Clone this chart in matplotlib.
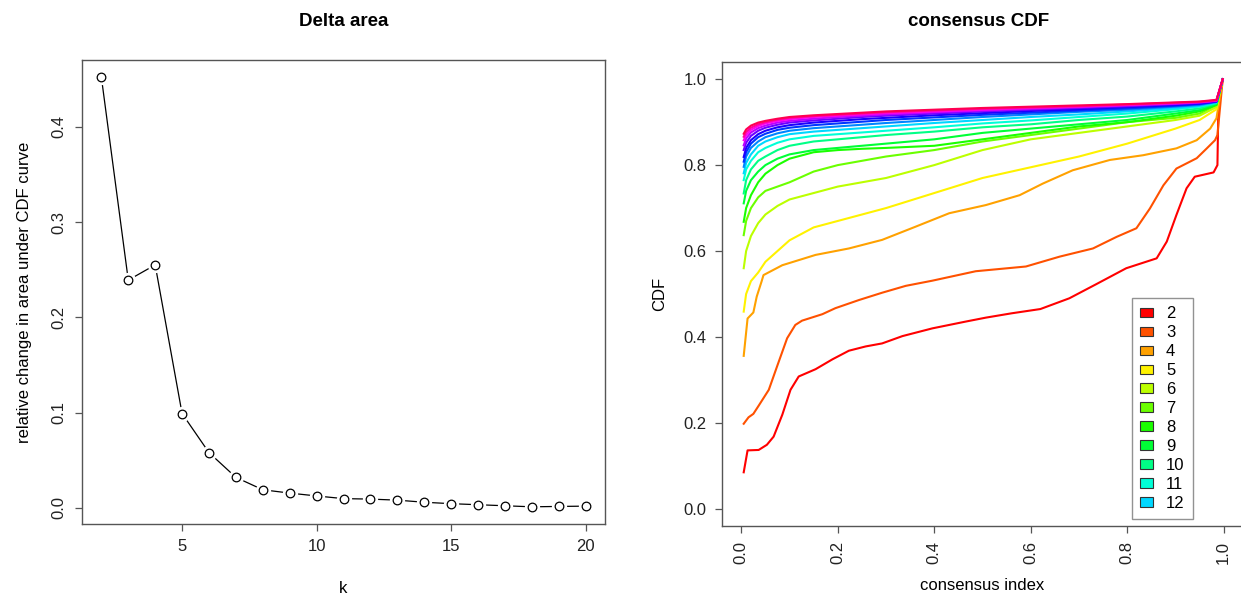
"""ConsensusClusterPlus-style summary: delta area + consensus CDF."""
import matplotlib
matplotlib.use("Agg")
import matplotlib.pyplot as plt
from matplotlib.colors import hsv_to_rgb
from matplotlib.patches import Patch

plt.rcParams["font.family"] = ["Liberation Sans", "DejaVu Sans"]

# ── Delta area (left panel) ─────────────────────────────────────────────────
k_values = list(range(2, 21))
delta_area = [0.452, 0.239, 0.255, 0.099, 0.058, 0.032, 0.019, 0.0155, 0.0125,
              0.0097, 0.0092, 0.0081, 0.0059, 0.0044, 0.0033, 0.0022, 0.0011,
              0.0015, 0.0018]

# ── consensus CDF (right panel) ─────────────────────────────────────────────
cdf_x_k2 = [0.005, 0.013, 0.036, 0.053, 0.067, 0.085, 0.102, 0.119, 0.154, 0.189,
            0.223, 0.258, 0.292, 0.334, 0.396, 0.466, 0.507, 0.56, 0.62, 0.68,
            0.736, 0.798, 0.861, 0.882, 0.902, 0.923, 0.94, 0.979, 0.987, 0.989, 0.998]
cdf_y_k2 = [0.085, 0.136, 0.137, 0.149, 0.168, 0.219, 0.277, 0.308, 0.325, 0.348,
            0.368, 0.378, 0.385, 0.402, 0.420, 0.436, 0.445, 0.455, 0.465, 0.49,
            0.523, 0.560, 0.583, 0.622, 0.684, 0.746, 0.773, 0.783, 0.800, 0.940, 1.0]

cdf_x_k3 = [0.005, 0.015, 0.025, 0.036, 0.057, 0.074, 0.095, 0.112, 0.126, 0.168,
            0.195, 0.244, 0.292, 0.341, 0.396, 0.486, 0.59, 0.66, 0.729, 0.778,
            0.819, 0.847, 0.875, 0.902, 0.944, 0.965, 0.982, 0.987, 0.998]
cdf_y_k3 = [0.198, 0.213, 0.221, 0.240, 0.277, 0.331, 0.397, 0.428, 0.438, 0.453,
            0.467, 0.486, 0.503, 0.519, 0.531, 0.553, 0.564, 0.587, 0.606, 0.633,
            0.653, 0.699, 0.753, 0.792, 0.816, 0.839, 0.858, 0.870, 1.0]

cdf_x_k4 = [0.005, 0.013, 0.025, 0.032, 0.042, 0.046, 0.085, 0.154, 0.223, 0.292,
            0.362, 0.431, 0.507, 0.577, 0.625, 0.687, 0.764, 0.833, 0.902, 0.944,
            0.972, 0.985, 0.998]
cdf_y_k4 = [0.356, 0.443, 0.457, 0.494, 0.529, 0.544, 0.567, 0.591, 0.606, 0.626,
            0.657, 0.688, 0.707, 0.730, 0.757, 0.788, 0.812, 0.823, 0.839, 0.858,
            0.885, 0.909, 1.0]

# shared consensus-index grid for k = 5..20
cdf_x = [0.005, 0.01, 0.02, 0.035, 0.05, 0.075, 0.1, 0.15, 0.2, 0.25, 0.3, 0.4,
         0.5, 0.6, 0.7, 0.8, 0.9, 0.95, 0.985, 0.998]
cdf_y_k5 = [0.459, 0.50, 0.53, 0.55, 0.575, 0.60, 0.625, 0.655, 0.67, 0.685, 0.70,
            0.735, 0.77, 0.795, 0.82, 0.85, 0.885, 0.905, 0.93, 1.0]
cdf_y_k6 = [0.56, 0.60, 0.635, 0.665, 0.685, 0.705, 0.72, 0.735, 0.75, 0.76, 0.77,
            0.80, 0.835, 0.86, 0.875, 0.89, 0.905, 0.915, 0.935, 1.0]
cdf_y_k7 = [0.637, 0.67, 0.70, 0.725, 0.74, 0.75, 0.76, 0.785, 0.80, 0.81, 0.82,
            0.835, 0.855, 0.87, 0.885, 0.90, 0.91, 0.92, 0.94, 1.0]
cdf_y_k8 = [0.668, 0.70, 0.73, 0.76, 0.78, 0.80, 0.815, 0.83, 0.835, 0.838, 0.84,
            0.845, 0.86, 0.875, 0.89, 0.90, 0.915, 0.925, 0.94, 1.0]
cdf_y_k9 = [0.711, 0.74, 0.765, 0.785, 0.80, 0.815, 0.825, 0.835, 0.84, 0.845, 0.85,
            0.86, 0.875, 0.885, 0.895, 0.905, 0.92, 0.928, 0.942, 1.0]
cdf_y_k10 = [0.734, 0.765, 0.79, 0.81, 0.82, 0.835, 0.845, 0.855, 0.86, 0.865, 0.87,
             0.878, 0.888, 0.895, 0.905, 0.913, 0.925, 0.932, 0.944, 1.0]
cdf_y_k11 = [0.765, 0.79, 0.81, 0.83, 0.84, 0.852, 0.86, 0.868, 0.872, 0.876, 0.88,
             0.888, 0.897, 0.904, 0.912, 0.92, 0.93, 0.936, 0.945, 1.0]
cdf_y_k12 = [0.781, 0.805, 0.825, 0.845, 0.855, 0.865, 0.872, 0.878, 0.882, 0.886,
             0.89, 0.898, 0.905, 0.912, 0.918, 0.925, 0.933, 0.938, 0.946, 1.0]
cdf_y_k13 = [0.796, 0.82, 0.84, 0.855, 0.865, 0.874, 0.88, 0.886, 0.89, 0.894,
             0.898, 0.905, 0.912, 0.918, 0.924, 0.929, 0.936, 0.94, 0.947, 1.0]
cdf_y_k14 = [0.808, 0.83, 0.85, 0.865, 0.873, 0.882, 0.887, 0.893, 0.897, 0.901,
             0.905, 0.911, 0.917, 0.922, 0.927, 0.932, 0.938, 0.942, 0.948, 1.0]
cdf_y_k15 = [0.819, 0.84, 0.858, 0.872, 0.88, 0.888, 0.893, 0.899, 0.903, 0.907,
             0.91, 0.916, 0.921, 0.926, 0.93, 0.935, 0.94, 0.943, 0.948, 1.0]
cdf_y_k16 = [0.835, 0.852, 0.868, 0.88, 0.887, 0.894, 0.899, 0.904, 0.908, 0.912,
             0.915, 0.92, 0.925, 0.929, 0.933, 0.937, 0.942, 0.945, 0.949, 1.0]
cdf_y_k17 = [0.846, 0.862, 0.876, 0.886, 0.892, 0.899, 0.903, 0.908, 0.912, 0.915,
             0.918, 0.923, 0.927, 0.931, 0.935, 0.939, 0.943, 0.946, 0.95, 1.0]
cdf_y_k18 = [0.858, 0.87, 0.882, 0.891, 0.897, 0.903, 0.907, 0.912, 0.915, 0.918,
             0.921, 0.925, 0.929, 0.933, 0.936, 0.94, 0.944, 0.947, 0.95, 1.0]
cdf_y_k19 = [0.866, 0.877, 0.887, 0.895, 0.90, 0.906, 0.91, 0.914, 0.917, 0.92,
             0.923, 0.927, 0.931, 0.934, 0.937, 0.941, 0.945, 0.947, 0.951, 1.0]
cdf_y_k20 = [0.873, 0.883, 0.892, 0.899, 0.903, 0.908, 0.912, 0.916, 0.919, 0.922,
             0.925, 0.929, 0.933, 0.936, 0.939, 0.942, 0.946, 0.948, 0.952, 1.0]

legend_k = list(range(2, 13))   # R's legend only shows the first 11 entries

curves = [(cdf_x_k2, cdf_y_k2), (cdf_x_k3, cdf_y_k3), (cdf_x_k4, cdf_y_k4)]
curves += [(cdf_x, y) for y in (cdf_y_k5, cdf_y_k6, cdf_y_k7, cdf_y_k8, cdf_y_k9,
                                cdf_y_k10, cdf_y_k11, cdf_y_k12, cdf_y_k13,
                                cdf_y_k14, cdf_y_k15, cdf_y_k16, cdf_y_k17,
                                cdf_y_k18, cdf_y_k19, cdf_y_k20)]

# R rainbow(19): hue i/n, full saturation/value
n_col = len(curves)
colors = [hsv_to_rgb((i / n_col, 1.0, 1.0)) for i in range(n_col)]

W, H = 1241, 600
FRAME = "#555555"
FS = 12


def px_axes(fig, x0, y0, x1, y1):
    """Axes from pixel box (top-left origin)."""
    return fig.add_axes([x0 / W, (H - y1) / H, (x1 - x0) / W, (y1 - y0) / H])


def style_axes(ax):
    for sp in ax.spines.values():
        sp.set_color(FRAME)
        sp.set_linewidth(1.0)
    ax.tick_params(colors="#222222", labelsize=FS, length=5, width=0.9,
                   pad=6, direction="out")
    ax.tick_params(axis="both", color=FRAME)


fig = plt.figure(figsize=(W / 100, H / 100), dpi=100)

# ── left: Delta area ────────────────────────────────────────────────────────
ax1 = px_axes(fig, 82, 60, 605, 524)
ax1.plot(k_values, delta_area, color="black", lw=0.9, zorder=2)
ax1.plot(k_values, delta_area, "o", ms=10, mfc="white", mec="white", zorder=3)
ax1.plot(k_values, delta_area, "o", ms=6.2, mfc="none", mec="black", mew=0.9,
         zorder=4)
ax1.margins(x=0.04, y=0.04)
ax1.set_xticks([5, 10, 15, 20])
ax1.set_yticks([0.0, 0.1, 0.2, 0.3, 0.4])
ax1.set_yticklabels(["0.0", "0.1", "0.2", "0.3", "0.4"], rotation=90, va="center")
style_axes(ax1)
ax1.set_xlabel("k", fontsize=FS, labelpad=19)
ax1.set_ylabel("relative change in area under CDF curve", fontsize=FS, labelpad=14)
fig.text(344 / W, 1 - 21 / H, "Delta area", ha="center", va="center",
         fontsize=13.5, fontweight="bold")

# ── right: consensus CDF ────────────────────────────────────────────────────
ax2 = px_axes(fig, 722, 62, 1243, 526)
for (xs, ys), c in zip(curves, colors):
    ax2.plot(xs, ys, color=c, lw=1.5, solid_joinstyle="round")
ax2.set_xlim(-0.04, 1.04)
ax2.set_ylim(-0.04, 1.04)
ax2.set_xticks([0.0, 0.2, 0.4, 0.6, 0.8, 1.0])
ax2.set_xticklabels(["0.0", "0.2", "0.4", "0.6", "0.8", "1.0"], rotation=90)
ax2.set_yticks([0.0, 0.2, 0.4, 0.6, 0.8, 1.0])
ax2.set_yticklabels(["0.0", "0.2", "0.4", "0.6", "0.8", "1.0"])
style_axes(ax2)
ax2.set_xlabel("consensus index", fontsize=FS, labelpad=10)
ax2.set_ylabel("CDF", fontsize=FS, labelpad=12)
fig.text(979 / W, 1 - 22 / H, "consensus CDF", ha="center", va="center",
         fontsize=13.5, fontweight="bold")

handles = [Patch(facecolor=colors[k - 2], edgecolor="#333333", lw=0.8)
           for k in legend_k]
leg = ax2.legend(handles, [str(k) for k in legend_k], loc="lower right",
                 bbox_to_anchor=(1193 / W, (H - 519) / H),
                 bbox_transform=fig.transFigure, fontsize=FS, frameon=True,
                 fancybox=False, edgecolor="#777777", handlelength=0.76,
                 handleheight=0.51, handletextpad=0.8, labelspacing=0.235,
                 borderpad=0.5, borderaxespad=0.0)
leg.get_frame().set_linewidth(1.0)

fig.savefig("out.png", dpi=100)
